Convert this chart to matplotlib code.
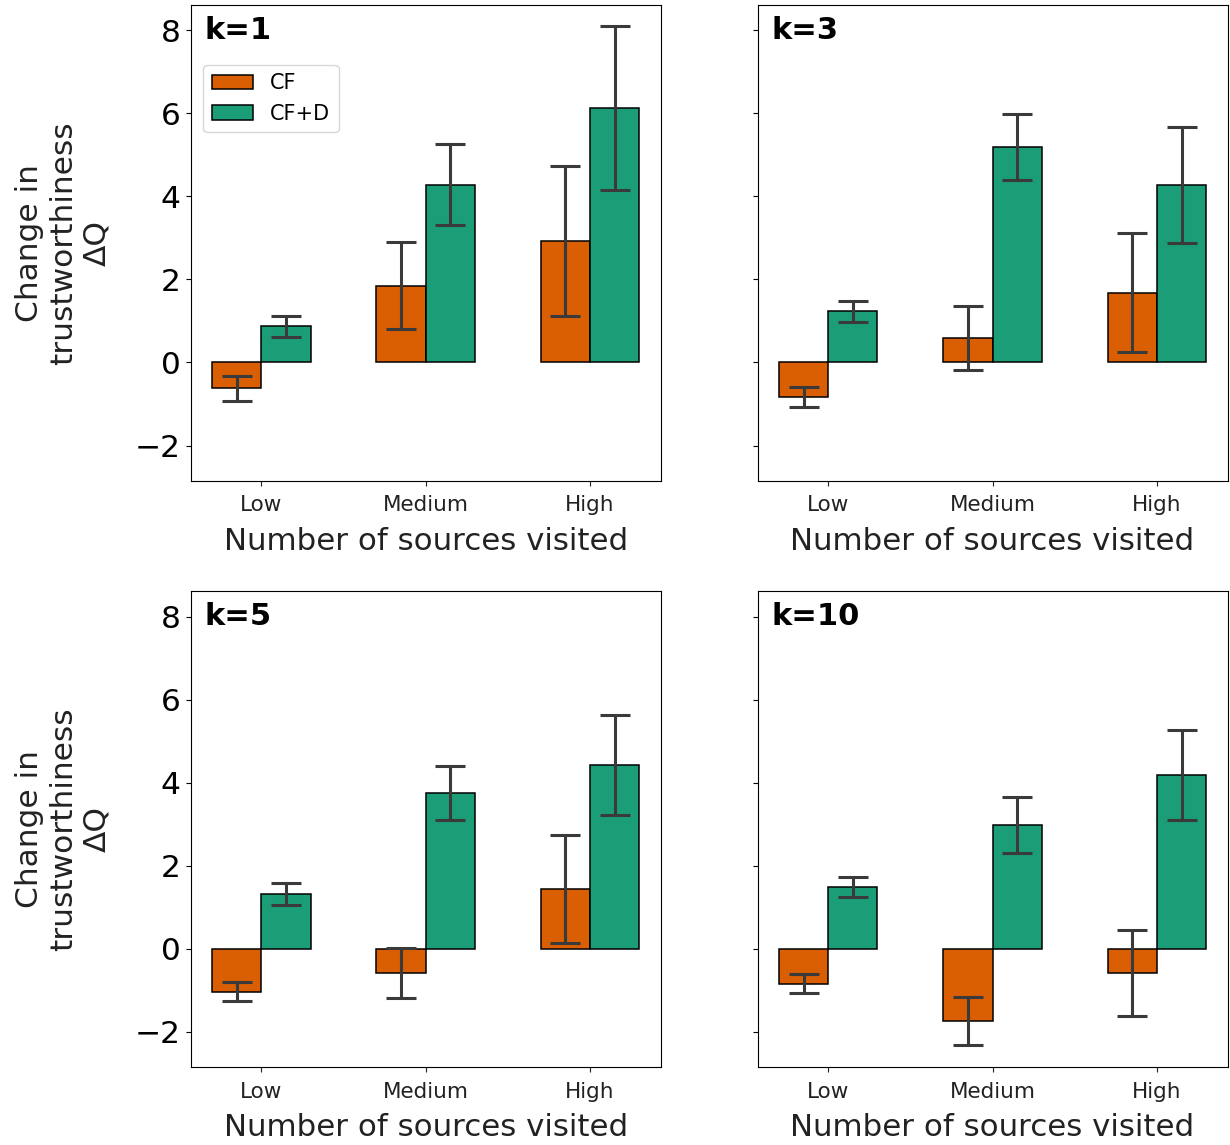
import numpy as np
import matplotlib
matplotlib.use("Agg")
import matplotlib.pyplot as plt

levels = ["Low", "Medium", "High"]
k_values = [1, 3, 5, 10]

# mean change and error for each k (Low, Medium, High)
cf_mean = {
    1:  [-0.62, 1.85, 2.93],
    3:  [-0.84, 0.60, 1.68],
    5:  [-1.03, -0.58, 1.44],
    10: [-0.84, -1.75, -0.58],
}
cf_err = {
    1:  [0.30, 1.05, 1.80],
    3:  [0.24, 0.77, 1.43],
    5:  [0.22, 0.60, 1.29],
    10: [0.23, 0.58, 1.03],
}
cfd_mean = {
    1:  [0.87, 4.28, 6.13],
    3:  [1.23, 5.19, 4.28],
    5:  [1.32, 3.75, 4.42],
    10: [1.49, 2.98, 4.18],
}
cfd_err = {
    1:  [0.25, 0.98, 1.97],
    3:  [0.26, 0.80, 1.40],
    5:  [0.26, 0.65, 1.20],
    10: [0.24, 0.67, 1.08],
}

CF_COLOR  = "#d95f02"
CFD_COLOR = "#1b9e77"
WIDTH = 0.3

fig, axes = plt.subplots(2, 2, figsize=(12.3, 11.45), dpi=100, sharey=True)
plt.subplots_adjust(left=0.155, right=0.998, top=0.996, bottom=0.068,
                    wspace=0.206, hspace=0.231)

err_kw = dict(ecolor="#3a3a3a", elinewidth=2.2, capsize=11, capthick=2.2)

for ax, k in zip(axes.flat, k_values):
    x = np.arange(len(levels))
    ax.bar(x - WIDTH / 2, cf_mean[k], WIDTH, yerr=cf_err[k], color=CF_COLOR,
           edgecolor="black", linewidth=1.1, label="CF", error_kw=err_kw)
    ax.bar(x + WIDTH / 2, cfd_mean[k], WIDTH, yerr=cfd_err[k], color=CFD_COLOR,
           edgecolor="black", linewidth=1.1, label="CF+D", error_kw=err_kw)
    ax.set_xticks(x)
    ax.set_xticklabels(levels)
    ax.tick_params(axis="x", labelsize=15.5, pad=7, colors="#222222")
    ax.tick_params(axis="y", labelsize=22.5)
    ax.set_yticks([-2, 0, 2, 4, 6, 8])
    ax.set_xlabel("Number of sources visited", fontsize=22.2, labelpad=8,
                  color="#222222")
    ax.text(0.03, 0.977, f"k={k}", transform=ax.transAxes, va="top", ha="left",
            fontsize=22, fontweight="bold")

for ax in axes[:, 0]:
    ax.set_ylabel("Change in\ntrustworthiness\n\u0394Q", fontsize=22.5,
                  labelpad=17, color="#222222")

axes[0, 0].legend(loc="upper left", bbox_to_anchor=(0.005, 0.895), fontsize=15)

plt.savefig("out.png", dpi=100)
plt.close()
